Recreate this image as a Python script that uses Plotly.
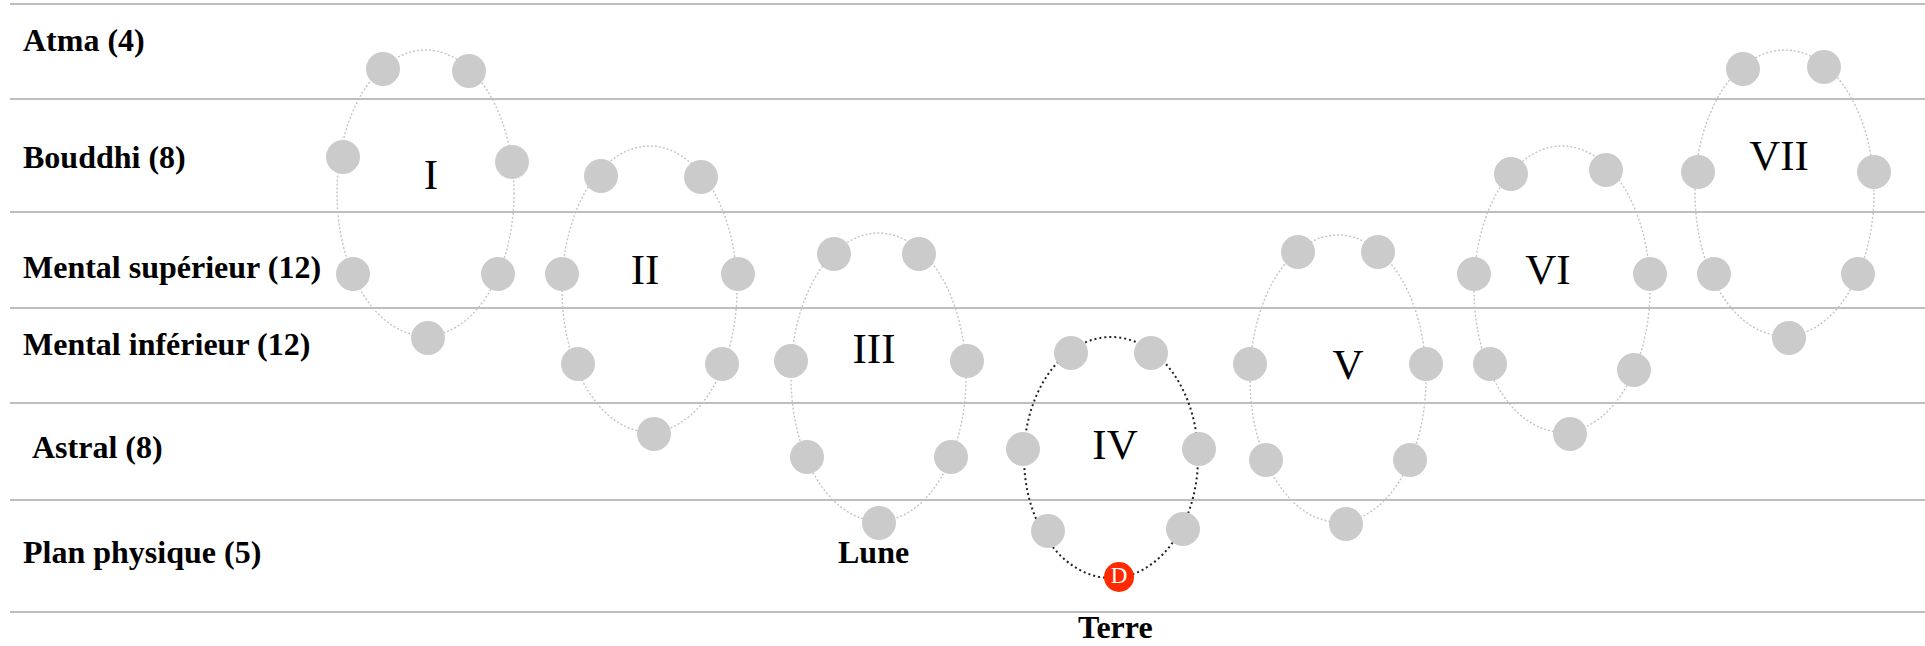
import plotly.graph_objects as go

# ── Données ────────────────────────────────────────────────────────────────────
plans = ["Atma (4)", "Bouddhi (8)", "Mental supérieur (12)", "Mental inférieur (12)",
         "Astral (8)", "Plan physique (5)"]
plans_x = [21, 21, 21, 21, 30, 21]
plans_y = [40, 157, 267, 344, 447, 552]
limites_y = [4, 99, 212, 308, 403, 500, 612]

globes = ["I", "II", "III", "IV", "V", "VI", "VII"]
globes_x = [431, 645, 874, 1115, 1348, 1548, 1779]
globes_y = [178, 273, 352, 448, 368, 273, 159]

# contour de chaque globe (x0, y0, x1, y1)
contours = [
    (337, 50, 514, 336),
    (562, 146, 737, 432),
    (791, 233, 966, 521),
    (1024, 337, 1198, 578),
    (1250, 235, 1426, 522),
    (1474, 146, 1650, 432),
    (1695, 50, 1874, 336),
]

# sept sphères par globe
spheres_x = [
    [383, 469, 343, 512, 353, 498, 428],
    [601, 701, 562, 738, 578, 722, 654],
    [834, 919, 791, 967, 807, 951, 879],
    [1071, 1151, 1023, 1199, 1048, 1183],
    [1298, 1378, 1250, 1426, 1266, 1410, 1346],
    [1511, 1606, 1474, 1650, 1490, 1634, 1570],
    [1743, 1824, 1698, 1874, 1714, 1858, 1789],
]
spheres_y = [
    [69, 71, 157, 162, 274, 274, 338],
    [176, 177, 274, 274, 364, 364, 434],
    [254, 254, 361, 361, 457, 457, 523],
    [353, 353, 449, 449, 531, 529],
    [252, 252, 364, 364, 460, 460, 524],
    [174, 170, 274, 274, 364, 370, 434],
    [69, 67, 172, 172, 274, 274, 338],
]

terre_x, terre_y = [1119], [577]
noms = ["Lune", "Terre"]
noms_x = [873, 1115]
noms_y = [552, 646]
noms_ancre = ["middle", "bottom"]

W, H = 1925, 646
SERIF = "Liberation Serif, Times New Roman, serif"

fig = go.Figure()

# lignes des plans
for y in limites_y:
    fig.add_shape(type="line", x0=10, x1=W, y0=y, y1=y, xref="x", yref="y",
                  line=dict(color="#a8a8a8", width=1.6), layer="below")

# contours des globes
for i, (x0, y0, x1, y1) in enumerate(contours):
    actif = globes[i] == "IV"
    fig.add_shape(type="circle", x0=x0, x1=x1, y0=y0, y1=y1, xref="x", yref="y",
                  line=dict(color="#222222" if actif else "#c4c4c4",
                            width=2 if actif else 1.4,
                            dash="2px,3px" if actif else "2px,2px"),
                  layer="below")

# sphères
for xs, ys in zip(spheres_x, spheres_y):
    fig.add_trace(go.Scatter(x=xs, y=ys, mode="markers",
                             marker=dict(size=34, color="#cbcbcb", line_width=0),
                             hoverinfo="skip", showlegend=False))

# la Terre
fig.add_trace(go.Scatter(x=terre_x, y=terre_y, mode="markers+text",
                         marker=dict(size=30, color="#ff2a00", line_width=0),
                         text=["D"], textposition="middle center",
                         textfont=dict(family=SERIF, size=23, color="white"),
                         hoverinfo="skip", showlegend=False))

# chiffres romains
fig.add_trace(go.Scatter(x=globes_x, y=globes_y, mode="text", text=globes,
                         textposition="middle center",
                         textfont=dict(family=SERIF, size=43, color="black"),
                         hoverinfo="skip", showlegend=False))

# noms des plans
for txt, x, y in zip(plans, plans_x, plans_y):
    fig.add_annotation(x=x, y=y, text=txt, showarrow=False, xanchor="left",
                       yanchor="middle", xref="x", yref="y",
                       font=dict(family=SERIF, size=32, color="black", weight="bold"))

for txt, x, y, ancre in zip(noms, noms_x, noms_y, noms_ancre):
    fig.add_annotation(x=x, y=y, text=txt, showarrow=False, xanchor="center",
                       yanchor=ancre, xref="x", yref="y", borderpad=0,
                       font=dict(family=SERIF, size=32, color="black", weight="bold"))

fig.update_layout(
    width=W, height=H,
    margin=dict(l=0, r=0, t=0, b=0),
    plot_bgcolor="white", paper_bgcolor="white",
    xaxis=dict(range=[0, W], visible=False, fixedrange=True),
    yaxis=dict(range=[H, 0], visible=False, fixedrange=True),
)

fig.write_html("out.html", config={"displayModeBar": False},
               post_script="document.body.style.margin='0';document.body.style.overflow='hidden';")
